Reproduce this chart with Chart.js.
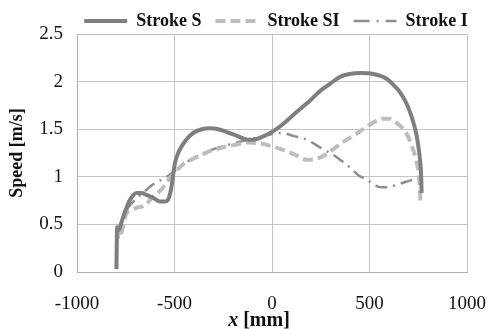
<!DOCTYPE html>
<html>
<head>
<meta charset="utf-8">
<script src="https://cdn.jsdelivr.net/npm/chart.js@4.4.1/dist/chart.umd.min.js"></script>
<style>
html,body{margin:0;padding:0;background:#fff;}
canvas{display:block;}
</style>
</head>
<body>
<canvas id="c" width="489" height="329"></canvas>
<script>
// ---- data ----
const seriesNames = ['Stroke S', 'Stroke SI', 'Stroke I'];

const sX = [-798,-796,-795,-785,-775,-763,-745,-728,-694,-670,-643,-610,-574,-550,-533,-523,-515,-505,-497,-485,-472,-440,-404,-360,-318,-275,-232,-180,-123,-97,-50,0,60,126,200,246,300,349,400,451,520,588,630,656,685,708,728,742,752,759,764,766,767];
const sY = [0.03,0.30,0.47,0.44,0.50,0.58,0.68,0.76,0.83,0.83,0.81,0.78,0.74,0.74,0.76,0.82,0.90,1.05,1.15,1.23,1.29,1.39,1.46,1.50,1.51,1.50,1.47,1.43,1.39,1.39,1.42,1.47,1.56,1.68,1.81,1.90,1.98,2.05,2.08,2.09,2.08,2.03,1.95,1.89,1.79,1.68,1.55,1.43,1.30,1.18,1.05,0.95,0.83];

const siX = [-790,-788,-779,-771,-745,-712,-686,-660,-610,-566,-540,-500,-472,-450,-404,-369,-318,-270,-232,-180,-130,-60,0,60,120,177,230,280,314,360,417,460,503,540,570,600,621,655,682,705,723,737,749,755,759,761];
const siY = [0.35,0.50,0.37,0.42,0.62,0.66,0.68,0.69,0.79,0.87,0.94,1.05,1.10,1.14,1.19,1.22,1.27,1.30,1.32,1.34,1.36,1.35,1.32,1.28,1.23,1.18,1.19,1.24,1.29,1.36,1.43,1.49,1.55,1.59,1.61,1.61,1.59,1.54,1.48,1.39,1.29,1.19,1.08,0.97,0.87,0.71];

const iX = [-790,-780,-760,-720,-680,-640,-617,-585,-540,-500,-463,-400,-300,-200,-100,0,50,109,177,262,300,349,400,441,487,528,560,588,646,692,730,759];
const iY = [0.40,0.48,0.60,0.72,0.80,0.87,0.91,0.95,1.00,1.06,1.12,1.20,1.29,1.35,1.40,1.45,1.46,1.43,1.39,1.29,1.25,1.18,1.10,1.02,0.97,0.91,0.89,0.89,0.92,0.95,0.97,0.97];

const xTickLabels = ['-1000','-500','0','500','1000'];
const yTickLabels = ['0','0.5','1','1.5','2','2.5'];
const xTitle = ['x', ' [mm]'];
const yTitle = 'Speed [m/s]';

const pts = (xs, ys) => xs.map((x, i) => ({x: x, y: ys[i]}));

const SERIF = "'Liberation Serif', 'Times New Roman', serif";
const legendDash = [[], [10, 5], [16, 7, 2, 7]];

const xTitlePlugin = {
  id: 'xTitle',
  afterLayout(chart) {
    const lg = chart.legend;
    const a = chart.chartArea;
    if (!lg) return;
    const dx = (a.left + a.right) / 2 + 4 - (lg.left + lg.right) / 2;
    const dy = 6;
    lg.left += dx; lg.right += dx;
    lg.top += dy; lg.bottom += dy;
  },
  afterDraw(chart) {
    const ctx = chart.ctx;
    const a = chart.chartArea;
    ctx.save();
    ctx.fillStyle = '#111';
    ctx.textBaseline = 'middle';
    ctx.font = "italic bold 20px " + SERIF;
    const w1 = ctx.measureText(xTitle[0]).width;
    ctx.font = "bold 20px " + SERIF;
    const w2 = ctx.measureText(xTitle[1]).width;
    const cx = (a.left + a.right) / 2 - 13;
    let x0 = cx - (w1 + w2) / 2;
    const y = 321;
    ctx.font = "italic bold 20px " + SERIF;
    ctx.fillText(xTitle[0], x0, y);
    ctx.font = "bold 20px " + SERIF;
    ctx.fillText(xTitle[1], x0 + w1, y);
    ctx.restore();
  }
};

const lineCommon = {pointRadius: 0, cubicInterpolationMode: 'monotone', fill: false};

new Chart(document.getElementById('c'), {
  type: 'line',
  data: {
    datasets: [
      Object.assign({label: seriesNames[0], data: pts(sX, sY), borderColor: '#7f7f7f', backgroundColor: '#7f7f7f', borderWidth: 4}, lineCommon),
      Object.assign({label: seriesNames[1], data: pts(siX, siY), borderColor: '#bdbdbd', backgroundColor: '#bdbdbd', borderWidth: 4, borderDash: [10, 5]}, lineCommon),
      Object.assign({label: seriesNames[2], data: pts(iX, iY), borderColor: '#8e8e8e', backgroundColor: '#8e8e8e', borderWidth: 2.5, borderDash: [12, 6, 2, 6]}, lineCommon)
    ]
  },
  options: {
    responsive: false,
    animation: false,
    devicePixelRatio: 1,
    layout: {padding: {left: 0, right: 22, top: -8, bottom: 0}},
    plugins: {
      tooltip: {enabled: false},
      legend: {
        position: 'top',
        labels: {
          usePointStyle: true,
          pointStyle: 'line',
          pointStyleWidth: 43,
          padding: 14,
          color: '#111',
          font: {family: SERIF, size: 18, weight: 'bold'},
          generateLabels: chart => chart.data.datasets.map((ds, i) => ({
            text: ds.label,
            fillStyle: ds.borderColor,
            strokeStyle: ds.borderColor,
            lineWidth: ds.borderWidth,
            lineDash: legendDash[i],
            lineCap: 'butt',
            pointStyle: 'line',
            hidden: false,
            datasetIndex: i,
            fontColor: '#111'
          }))
        }
      }
    },
    scales: {
      x: {
        type: 'linear',
        min: -1000, max: 1000,
        afterFit: s => { s.height = 57; s.paddingRight = 0; s.paddingLeft = 0; },
        afterBuildTicks: s => { s.ticks = xTickLabels.map(t => ({value: Number(t)})); },
        ticks: {
          padding: 21,
          color: '#111',
          font: {family: SERIF, size: 19},
          callback: (v, i) => xTickLabels[i]
        },
        grid: {color: '#c4c4c4', lineWidth: 1, drawTicks: false},
        border: {color: '#b0b0b0'},
        title: {display: false}
      },
      y: {
        type: 'linear',
        min: 0, max: 2.5,
        afterFit: s => { s.width = 77; s.paddingTop = 0; s.paddingBottom = 0; },
        afterBuildTicks: s => { s.ticks = yTickLabels.map(t => ({value: Number(t)})); },
        ticks: {
          padding: 14,
          color: '#111',
          font: {family: SERIF, size: 19},
          callback: (v, i) => yTickLabels[i]
        },
        grid: {color: '#c4c4c4', lineWidth: 1, drawTicks: false},
        border: {color: '#b0b0b0'},
        title: {display: true, text: yTitle, color: '#111', padding: {top: 7, bottom: 0}, font: {family: SERIF, size: 18, weight: 'bold'}}
      }
    }
  },
  plugins: [xTitlePlugin]
});
</script>
</body>
</html>
